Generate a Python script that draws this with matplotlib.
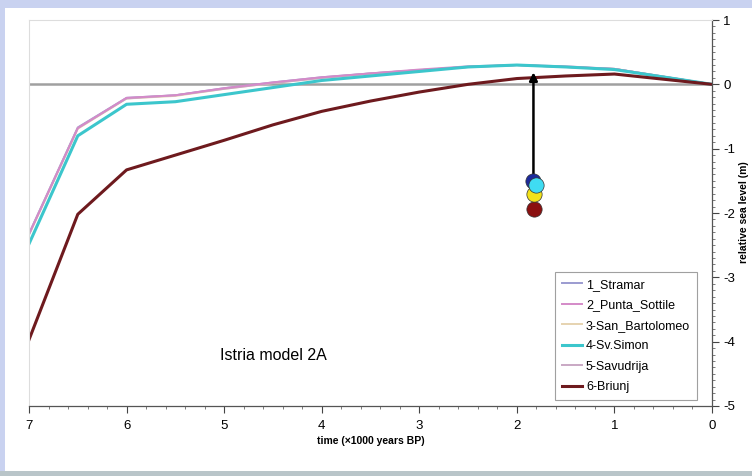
import matplotlib.pyplot as plt
from matplotlib.patches import Rectangle
from matplotlib.ticker import MultipleLocator

plt.rcParams['font.family'] = ['Liberation Sans', 'DejaVu Sans']
plt.rcParams['axes.unicode_minus'] = False

# time in 1000 years BP
time_ka = [7, 6.5, 6, 5.5, 5, 4.5, 4, 3.5, 3, 2.5, 2, 1.5, 1, 0]

stramar      = [-2.32, -0.67, -0.21, -0.17, -0.06, 0.03, 0.11, 0.17, 0.22, 0.27, 0.30, 0.27, 0.24, 0]
punta_sottile = [-2.33, -0.68, -0.21, -0.17, -0.06, 0.03, 0.11, 0.17, 0.23, 0.28, 0.30, 0.28, 0.24, 0]
san_bartolomeo = [-2.34, -0.69, -0.22, -0.18, -0.07, 0.02, 0.10, 0.16, 0.22, 0.27, 0.30, 0.27, 0.24, 0]
sv_simon     = [-2.48, -0.80, -0.31, -0.27, -0.16, -0.05, 0.06, 0.13, 0.20, 0.27, 0.30, 0.27, 0.23, 0]
savudrija    = [-2.33, -0.68, -0.22, -0.17, -0.07, 0.02, 0.10, 0.17, 0.22, 0.27, 0.30, 0.27, 0.24, 0]
briunj       = [-3.97, -2.02, -1.33, -1.10, -0.87, -0.63, -0.42, -0.26, -0.12, 0.0, 0.09, 0.13, 0.16, 0]

# observed markers (x in ka, y in m)
obs_x = [1.82, 1.82, 1.83, 1.80]
obs_y = [-1.94, -1.71, -1.50, -1.56]
obs_col = ['#8b1010', '#f2e21a', '#1c2a9c', '#3fdcf2']
arrow_top = 0.23

series = [
    ('1_Stramar', stramar, '#9b9bd0'),
    ('3-San_Bartolomeo', san_bartolomeo, '#e6d3b0'),
    ('5-Savudrija', savudrija, '#c9a8c4'),
    ('2_Punta_Sottile', punta_sottile, '#d48ac8'),
    ('4-Sv.Simon', sv_simon, '#3cc6cc'),
    ('6-Briunj', briunj, '#6e1a1e'),
]
legend_order = ['1_Stramar', '2_Punta_Sottile', '3-San_Bartolomeo',
                '4-Sv.Simon', '5-Savudrija', '6-Briunj']

fig = plt.figure(figsize=(7.52, 4.76), dpi=100)
fig.patch.set_facecolor('#c9d2f0')
fig.patches.append(Rectangle((5 / 752, 1 - 471 / 476), 747 / 752, 463 / 476,
                             transform=fig.transFigure, facecolor='white',
                             edgecolor='none', zorder=-2))
fig.patches.append(Rectangle((0, 0), 1, 5 / 476, transform=fig.transFigure,
                             facecolor='#b9c5c9', edgecolor='none', zorder=-2))

ax = fig.add_axes([29 / 752, 1 - 406 / 476, 683 / 752, 386 / 476])
ax.set_facecolor('white')

ax.axhline(0, color='#a0a0a0', lw=1.8, zorder=1)

handles = {}
for name, vals, col in series:
    lw = 2.2 if name in ('4-Sv.Simon', '6-Briunj') else 1.4
    h, = ax.plot(time_ka, vals, color=col, lw=lw, zorder=2)
    handles[name] = h

ax.annotate('', xy=(obs_x[2], arrow_top), xytext=(obs_x[2], obs_y[2]),
            arrowprops=dict(arrowstyle='-|>', color='black', lw=1.8,
                            mutation_scale=12), zorder=4)
for x, y, c in zip(obs_x, obs_y, obs_col):
    ax.plot(x, y, 'o', ms=11, color=c, mec='#333333', mew=0.5, zorder=5)

ax.set_xlim(7, 0)
ax.set_ylim(-5, 1)
ax.xaxis.set_major_locator(MultipleLocator(1))
ax.xaxis.set_minor_locator(MultipleLocator(0.2))
ax.yaxis.set_major_locator(MultipleLocator(1))
ax.yaxis.set_minor_locator(MultipleLocator(0.1))
ax.yaxis.tick_right()
ax.tick_params(axis='both', which='major', length=5, width=0.8, labelsize=9.5,
               color='#444444')
ax.tick_params(axis='both', which='minor', length=2.5, width=0.6, color='#666666')
ax.tick_params(axis='x', pad=5)
ax.tick_params(axis='y', pad=3)

for s in ('left', 'top'):
    ax.spines[s].set_color('#dddddd')
    ax.spines[s].set_linewidth(0.8)
for s in ('right', 'bottom'):
    ax.spines[s].set_color('#555555')
    ax.spines[s].set_linewidth(0.9)

ax.set_xlabel('time (×1000 years BP)', fontsize=7.5, fontweight='bold',
              labelpad=3)
fig.text(744 / 752, 1 - 212 / 476, 'relative sea level (m)', fontsize=7.5,
         fontweight='bold', rotation=90, ha='center', va='center')

ax.text(5.04, -4.22, 'Istria model 2A', fontsize=11.5, va='center', ha='left')

leg = ax.legend([handles[n] for n in legend_order], legend_order,
                loc='lower right', bbox_to_anchor=(0.978, 0.0155), fontsize=9,
                borderaxespad=0, frameon=True, fancybox=False, handlelength=1.6,
                handletextpad=0.3, borderpad=0.55, labelspacing=0.68)
leg.get_frame().set_edgecolor('#888888')
leg.get_frame().set_linewidth(0.8)

fig.savefig('out.png', dpi=100, facecolor=fig.get_facecolor())
